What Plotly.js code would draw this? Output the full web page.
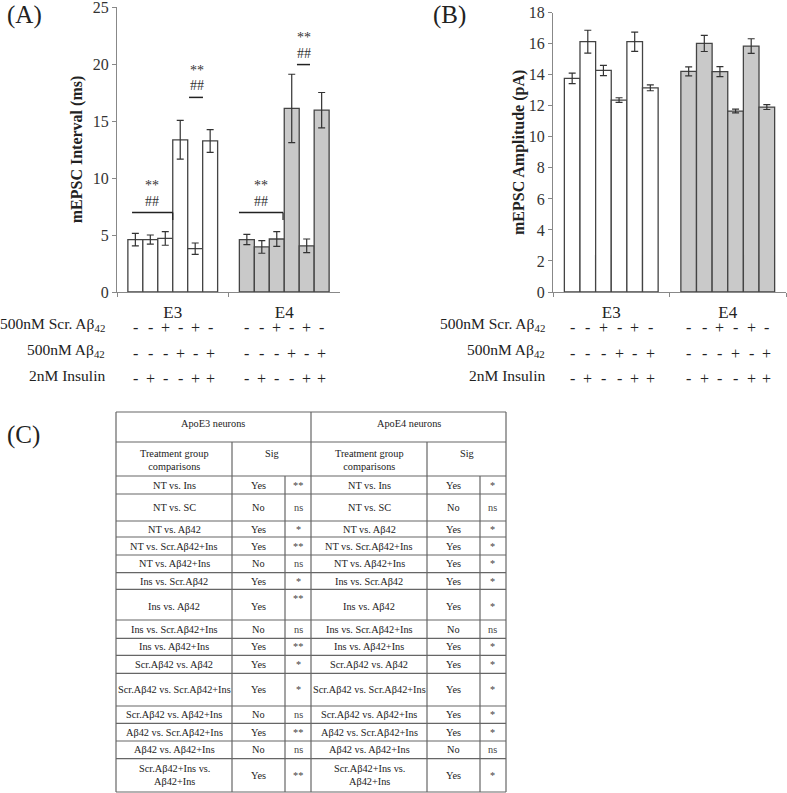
<!DOCTYPE html>
<html>
<head>
<meta charset="utf-8">
<script src="https://cdn.plot.ly/plotly-3.0.1.min.js"></script>
<style>html,body{margin:0;padding:0;background:#fff;}#chart{width:787px;height:793px;}</style>
</head>
<body>
<div id="chart"></div>
<script>
// ---------- DATA ----------
const groups = ["E3", "E4"];
const treatments = ["NT", "Ins", "Scr.Aβ42", "Aβ42", "Scr.Aβ42+Ins", "Aβ42+Ins"];

const intervalE3 = [4.6, 4.6, 4.7, 13.35, 3.8, 13.25];
const intervalE3Err = [0.55, 0.4, 0.6, 1.7, 0.5, 1.0];
const intervalE4 = [4.6, 3.95, 4.65, 16.1, 4.05, 15.95];
const intervalE4Err = [0.45, 0.55, 0.65, 3.0, 0.6, 1.55];

const ampE3 = [13.77, 16.13, 14.28, 12.37, 16.13, 13.16];
const ampE3Err = [0.34, 0.74, 0.33, 0.15, 0.62, 0.19];
const ampE4 = [14.22, 16.02, 14.2, 11.66, 15.85, 11.92];
const ampE4Err = [0.29, 0.52, 0.32, 0.12, 0.47, 0.16];

const conditionLabels = ["500nM Scr. Aβ<sub>42</sub>", "500nM Aβ<sub>42</sub>", "2nM Insulin"];
const scrAbSigns = ["-", "-", "+", "-", "+", "-"];
const abSigns = ["-", "-", "-", "+", "-", "+"];
const insulinSigns = ["-", "+", "-", "-", "+", "+"];

const tableGroups = ["ApoE3 neurons", "ApoE4 neurons"];
const tableHeaders = ["Treatment group<br>comparisons", "Sig"];
const comparisons = ["NT vs. Ins", "NT vs. SC", "NT vs. Aβ42", "NT vs. Scr.Aβ42+Ins", "NT vs. Aβ42+Ins",
  "Ins vs. Scr.Aβ42", "Ins vs. Aβ42", "Ins vs. Scr.Aβ42+Ins", "Ins vs. Aβ42+Ins", "Scr.Aβ42 vs. Aβ42",
  "Scr.Aβ42 vs. Scr.Aβ42+Ins", "Scr.Aβ42 vs. Aβ42+Ins", "Aβ42 vs. Scr.Aβ42+Ins", "Aβ42 vs. Aβ42+Ins",
  "Scr.Aβ42+Ins vs.<br>Aβ42+Ins"];
const e3Sig = ["Yes", "No", "Yes", "Yes", "No", "Yes", "Yes", "No", "Yes", "Yes", "Yes", "No", "Yes", "No", "Yes"];
const e3Level = ["**", "ns", "*", "**", "ns", "*", "**", "ns", "**", "*", "*", "ns", "**", "ns", "**"];
const e4Sig = ["Yes", "No", "Yes", "Yes", "Yes", "Yes", "Yes", "No", "Yes", "Yes", "Yes", "Yes", "Yes", "No", "Yes"];
const e4Level = ["*", "ns", "*", "*", "*", "*", "*", "ns", "*", "*", "*", "*", "*", "ns", "*"];

// ---------- LAYOUT HELPERS (pixel positions) ----------
const W = 787, H = 793;
const X = p => p / W;
const Y = p => 1 - p / H;
const FONT = 'Liberation Serif, "Times New Roman", Times, serif';
const BARGAP = 0.195;
const barOffset = k => (k - 2.5) * (1 - BARGAP) / 6;
const fillColors = ["#ffffff", "#c9c9c9"];

// table geometry (px)
const tableColEdges = [116, 232, 285, 311, 427, 480, 506];
const tableRowEdges = [412, 442, 476, 494, 521, 537, 555, 572.7, 589.3, 620, 638.3, 655.3, 673.3, 706, 723.3, 741, 758.7, 792];

// ---------- TRACES ----------
const traces = [];
function addBars(e3, e3e, e4, e4e, xa, ya) {
  for (let k = 0; k < 6; k++) {
    traces.push({
      type: "bar", x: groups, y: [e3[k], e4[k]], name: treatments[k],
      xaxis: xa, yaxis: ya, showlegend: false,
      marker: { color: fillColors, line: { color: "#444", width: 1.3 } },
      error_y: { type: "data", array: [e3e[k], e4e[k]], visible: true, color: "#333", thickness: 1.2, width: 3.5 }
    });
  }
}
addBars(intervalE3, intervalE3Err, intervalE4, intervalE4Err, "x", "y");
addBars(ampE3, ampE3Err, ampE4, ampE4Err, "x2", "y2");

// ---------- ANNOTATIONS & SHAPES ----------
const ann = [];
const shapes = [];
const txt = (x, y, text, size, extra) => Object.assign({
  x: x, y: y, xref: "paper", yref: "paper", text: text, showarrow: false,
  font: { family: FONT, size: size, color: "#222" }, xanchor: "center", yanchor: "middle"
}, extra || {});

// panel labels
ann.push(txt(X(24), Y(15), "(A)", 25));
ann.push(txt(X(449), Y(15), "(B)", 25));
ann.push(txt(X(23), Y(435), "(C)", 25));

// condition rows below bar panels
const signRows = [scrAbSigns, abSigns, insulinSigns];
const rowLabelY = [324, 350, 375];
const rowSignY = [327, 353, 378];
[["x", 107], ["x2", 547]].forEach(([xa, labelX]) => {
  conditionLabels.forEach((lab, r) => {
    ann.push(txt(X(labelX), Y(rowLabelY[r]), lab, 15.5, { xanchor: "right" }));
    for (let g = 0; g < 2; g++) {
      for (let k = 0; k < 6; k++) {
        ann.push(txt(g + barOffset(k), Y(rowSignY[r]), signRows[r][k], 16, { xref: xa }));
      }
    }
  });
});

// significance markers on panel A (data coords)
const sigMarks = [
  { x0: -0.365, x1: 0.0, y: 6.97, tick: true },
  { x0: 0.146, x1: 0.271, y: 17.07, tick: false },
  { x0: 0.594, x1: 0.989, y: 6.97, tick: true },
  { x0: 1.114, x1: 1.231, y: 19.95, tick: false }
];
const sigTextX = [-0.186, 0.2175, 0.791, 1.177];
sigMarks.forEach((m, i) => {
  shapes.push({ type: "line", xref: "x", yref: "y", x0: m.x0, x1: m.x1, y0: m.y, y1: m.y, line: { color: "#222", width: 1.5 } });
  if (m.tick) shapes.push({ type: "line", xref: "x", yref: "y", x0: m.x1, x1: m.x1, y0: m.y, y1: m.y - 0.65, line: { color: "#222", width: 1.2 } });
  ann.push({ x: sigTextX[i], y: m.y + 0.17, xref: "x", yref: "y", text: "##", showarrow: false, yanchor: "bottom",
    font: { family: FONT, size: 14, color: "#333" } });
  ann.push({ x: sigTextX[i], y: m.y + 1.5, xref: "x", yref: "y", text: "**", showarrow: false, yanchor: "bottom",
    font: { family: FONT, size: 14, color: "#333" } });
});

// table lines
const tl = { color: "#666", width: 1.2 };
tableRowEdges.forEach((ry, i) => {
  shapes.push({ type: "line", xref: "paper", yref: "paper", x0: X(tableColEdges[0]), x1: X(tableColEdges[6]), y0: Y(ry), y1: Y(ry), line: tl });
});
const vline = (cx, y0, y1) => shapes.push({ type: "line", xref: "paper", yref: "paper", x0: X(cx), x1: X(cx), y0: Y(y0), y1: Y(y1), line: tl });
const tTop = tableRowEdges[0], tBot = tableRowEdges[tableRowEdges.length - 1];
vline(tableColEdges[0], tTop, tBot);
vline(tableColEdges[3], tTop, tBot);
vline(tableColEdges[6], tTop, tBot);
vline(tableColEdges[1], tableRowEdges[1], tBot);
vline(tableColEdges[4], tableRowEdges[1], tBot);
vline(tableColEdges[2], tableRowEdges[2], tBot);
vline(tableColEdges[5], tableRowEdges[2], tBot);

// table text
const TF = 10.3;
const mid = (a, b) => (a + b) / 2;
[0, 3].forEach((c0, side) => {
  const e = tableColEdges;
  ann.push(txt(X(mid(e[c0], e[c0 + 3])), Y(tableRowEdges[0] + 11), tableGroups[side], TF));
  ann.push(txt(X(mid(e[c0], e[c0 + 1])), Y(tableRowEdges[1] + 18), tableHeaders[0], TF));
  ann.push(txt(X(mid(e[c0 + 1], e[c0 + 3])), Y(tableRowEdges[1] + 11), tableHeaders[1], TF));
  const sig = side === 0 ? e3Sig : e4Sig;
  const lev = side === 0 ? e3Level : e4Level;
  comparisons.forEach((cmp, i) => {
    const cy = mid(tableRowEdges[i + 2], tableRowEdges[i + 3]) + (i === 6 ? 2 : 0);
    ann.push(txt(X(mid(e[c0], e[c0 + 1])), Y(cy), cmp, TF));
    ann.push(txt(X(mid(e[c0 + 1], e[c0 + 2])), Y(cy), sig[i], TF));
    const ly = (i === 6 && side === 0) ? tableRowEdges[i + 2] + 9 : cy;
    ann.push(txt(X(mid(e[c0 + 2], e[c0 + 3])), Y(ly), lev[i], TF, { font: { family: FONT, size: TF, color: "#444" } }));
  });
});

// ---------- AXES ----------
const axisCommon = {
  showline: true, linecolor: "#888", linewidth: 1, ticks: "outside", ticklen: 4, tickcolor: "#888",
  showgrid: false, zeroline: false, tickfont: { family: FONT, size: 16, color: "#333" }, fixedrange: true,
  ticklabeloverflow: "allow"
};
const xCommon = Object.assign({}, axisCommon, {
  type: "category", tickson: "boundaries", range: [-0.5, 1.5], ticklabelstandoff: 5,
  tickfont: { family: FONT, size: 17, color: "#222" }
});

const layout = {
  width: W, height: H, margin: { l: 0, r: 0, t: 0, b: 0 },
  paper_bgcolor: "#ffffff", plot_bgcolor: "rgba(0,0,0,0)",
  barmode: "group", bargap: BARGAP, bargroupgap: 0, showlegend: false,
  font: { family: FONT, color: "#222" },
  xaxis: Object.assign({}, xCommon, { domain: [X(117), X(340)], anchor: "y" }),
  yaxis: Object.assign({}, axisCommon, {
    domain: [Y(292), Y(7)], anchor: "x", range: [0, 25], dtick: 5,
    title: { text: "<b>mEPSC Interval (ms)</b>", standoff: 6, font: { family: FONT, size: 16, color: "#222" } }
  }),
  xaxis2: Object.assign({}, xCommon, { domain: [X(553), X(786)], anchor: "y2" }),
  yaxis2: Object.assign({}, axisCommon, {
    domain: [Y(292), Y(12.7)], anchor: "x2", range: [0, 18], dtick: 2,
    title: { text: "<b>mEPSC Amplitude (pA)</b>", standoff: 0, font: { family: FONT, size: 16, color: "#222" } }
  }),
  annotations: ann,
  shapes: shapes
};

Plotly.newPlot("chart", traces, layout, { staticPlot: true, displayModeBar: false });
</script>
</body>
</html>
